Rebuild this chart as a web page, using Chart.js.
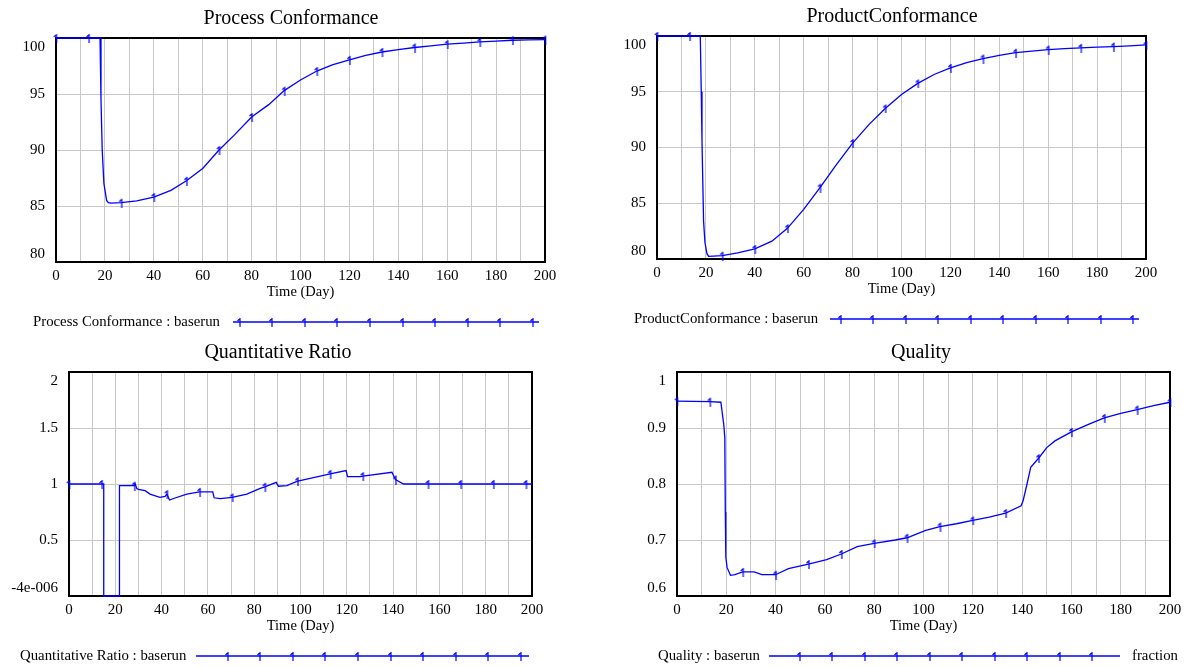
<!DOCTYPE html>
<html>
<head>
<meta charset="utf-8">
<script src="https://cdn.jsdelivr.net/npm/chart.js@4.4.1/dist/chart.umd.min.js"></script>
<style>
  html, body { margin: 0; padding: 0; background: #fff; }
  #wrap { position: relative; width: 1188px; height: 666px; }
  #wrap canvas { position: absolute; left: 0; top: 0; }
</style>
</head>
<body>
<div id="wrap">
  <canvas id="c1" width="1188" height="666"></canvas>
  <canvas id="c2" width="1188" height="666"></canvas>
  <canvas id="c3" width="1188" height="666"></canvas>
  <canvas id="c4" width="1188" height="666"></canvas>
</div>
<script>
// time axis (Day)
const timeGrid = [0, 10, 20, 30, 40, 50, 60, 70, 80, 90, 100, 110, 120, 130, 140, 150, 160, 170, 180, 190, 200];
const timeLabels = [0, 20, 40, 60, 80, 100, 120, 140, 160, 180, 200];

// Process Conformance : baserun
const pcTime = [0, 13.33, 18, 18.4, 18.9, 19.6, 20.7, 21.4, 22.5, 26.67, 33, 40, 47, 53.33, 60, 66.67, 73, 80, 87, 93.33,
  100, 106.67, 113, 120, 126.67, 133.33, 140, 146.67, 153.33, 160, 166.67, 173.33, 180, 186.67, 193.33, 200];
const pcValue = [100, 100, 100, 94.5, 90, 87, 85.5, 85.3, 85.25, 85.3, 85.45, 85.8, 86.4, 87.25, 88.35, 90, 91.35, 92.95, 94.05, 95.3,
  96.25, 97.05, 97.6, 98.05, 98.45, 98.75, 98.97, 99.15, 99.3, 99.45, 99.55, 99.65, 99.72, 99.8, 99.83, 99.86];
const pcMarks = [0, 13.33, 26.67, 40, 53.33, 66.67, 80, 93.33, 106.67, 120, 133.33, 146.67, 160, 173.33, 186.67, 200];
const pcYTicks = [80, 85, 90, 95, 100];
const pcYLabels = ['80', '85', '90', '95', '100'];

// ProductConformance : baserun
const prTime = [0, 13.33, 17.7, 18.1, 18.4, 19.05, 19.6, 20.4, 21.1, 23, 26.67, 33, 40, 47, 53.33, 60, 66.67, 73, 80, 86.67,
  93.33, 100, 106.67, 113.33, 120, 126.67, 133.33, 140, 146.67, 153.33, 160, 166.67, 173.33, 180, 186.67, 193.33, 200];
const prValue = [100, 100, 100, 95, 90.6, 83.4, 81.5, 80.5, 80.23, 80.25, 80.3, 80.55, 80.9, 81.6, 82.75, 84.45, 86.4, 88.35, 90.4, 92.05,
  93.5, 94.75, 95.75, 96.55, 97.14, 97.62, 97.98, 98.27, 98.5, 98.65, 98.78, 98.87, 98.94, 99.0, 99.05, 99.12, 99.2];
const prMarks = [0, 13.33, 26.67, 40, 53.33, 66.67, 80, 93.33, 106.67, 120, 133.33, 146.67, 160, 173.33, 186.67, 200];
const prYTicks = [80, 85, 90, 95, 100];
const prYLabels = ['80', '85', '90', '95', '100'];

// Quantitative Ratio : baserun
const qrTime = [0, 14.1, 15, 15, 21.8, 21.8, 28.2, 28.6, 29.3, 30, 32.9, 35, 39.3, 41.5, 42.3, 43.4, 45.8, 50.9, 56.4, 62.1,
  62.7, 65.3, 70.5, 76.8, 82.6, 84.6, 89.5, 90.5, 94.1, 98.7, 99.8, 108.5, 112.8, 119.7, 120.3, 125.8, 126.9, 139.5, 141, 144.5,
  155.1, 169.2, 183.3, 197.4, 200];
const qrValue = [1, 1, 1, 0, 0, 0.985, 0.985, 1.0, 0.96, 0.952, 0.94, 0.91, 0.88, 0.89, 0.91, 0.857, 0.875, 0.91, 0.93, 0.93,
  0.877, 0.87, 0.88, 0.91, 0.96, 0.975, 1.015, 0.98, 0.985, 1.025, 1.03, 1.07, 1.09, 1.12, 1.065, 1.065, 1.07, 1.105, 1.04, 1.0,
  1, 1, 1, 1, 1];
const qrMarks = [0, 14.1, 28.2, 42.3, 56.4, 70.5, 84.6, 98.7, 112.8, 126.9, 141, 155.1, 169.2, 183.3, 197.4];
const qrYTicks = [0, 0.5, 1, 1.5, 2];
const qrYLabels = ['-4e-006', '0.5', '1', '1.5', '2'];

// Quality : baserun
const quTime = [0, 13.33, 17.8, 19.0, 19.4, 19.6, 19.8, 20.3, 21.7, 23.5, 26.67, 31.3, 34.4, 40, 45.2, 53.33, 60.7, 66.67, 73.1, 80,
  88.5, 93.33, 100.9, 106.67, 113.33, 120, 126.67, 133.33, 139.6, 140.4, 142, 143.5, 146.67, 150, 153.33, 160, 166.67, 173.33, 180, 186.67,
  193.33, 200];
const quValue = [0.948, 0.947, 0.946, 0.905, 0.882, 0.75, 0.67, 0.651, 0.637, 0.638, 0.643, 0.643, 0.638, 0.638, 0.649, 0.657, 0.665, 0.675, 0.688, 0.694,
  0.70, 0.704, 0.717, 0.724, 0.729, 0.735, 0.741, 0.748, 0.761, 0.77, 0.80, 0.83, 0.846, 0.865, 0.877, 0.893, 0.906, 0.918, 0.926, 0.933,
  0.94, 0.946];
const quMarks = [0, 13.33, 26.67, 40, 53.33, 66.67, 80, 93.33, 106.67, 120, 133.33, 146.67, 160, 173.33, 186.67, 200];
const quYTicks = [0.6, 0.7, 0.8, 0.9, 1];
const quYLabels = ['0.6', '0.7', '0.8', '0.9', '1'];

const SERIF = '"Liberation Serif", "Times New Roman", serif';
const BLUE = '#0000ff';

// the little "1" run marker Vensim puts on its lines
const marker = document.createElement('canvas');
marker.width = 7; marker.height = 10;
(function () {
  const m = marker.getContext('2d');
  m.strokeStyle = BLUE; m.lineWidth = 1.2;
  m.beginPath();
  m.moveTo(4, 1); m.lineTo(4, 10);
  m.moveTo(4, 1.5); m.lineTo(1.5, 4);
  m.stroke();
})();

function makeChart(id, t, v, marks, yTicks, yLabels, p) {
  const markSet = new Set(marks);
  const decor = {
    id: 'decor',
    beforeDatasetsDraw(chart) {
      const { ctx, chartArea: a } = chart;
      ctx.save();
      ctx.strokeStyle = '#000'; ctx.lineWidth = 2;
      ctx.strokeRect(a.left, a.top, a.right - a.left, a.bottom - a.top);
      ctx.restore();
    },
    afterDraw(chart) {
      const { ctx, chartArea: a } = chart;
      const ys = chart.scales.y;
      const cx = (a.left + a.right) / 2;
      ctx.save();
      ctx.fillStyle = '#000';
      ctx.textBaseline = 'middle';
      // title
      ctx.font = '20px ' + SERIF;
      ctx.textAlign = 'center';
      ctx.fillText(p.title, p.titleX, a.top - 19);
      // y tick labels, end ones pulled inside like Vensim does
      ctx.font = '15px ' + SERIF;
      ctx.textAlign = 'right';
      ys.ticks.forEach((tk, i) => {
        let py = ys.getPixelForValue(tk.value);
        if (i === 0) py -= 8;
        if (i === ys.ticks.length - 1) py += 9;
        ctx.fillText(yLabels[i], a.left - 11, py);
      });
      // x axis title
      ctx.font = '14.5px ' + SERIF;
      ctx.textAlign = 'center';
      ctx.fillText('Time (Day)', cx, a.bottom + 30);
      // legend row
      const ly = a.bottom + 60;
      ctx.font = '14.8px ' + SERIF;
      ctx.textAlign = 'left';
      ctx.fillText(p.legend, p.legX, ly);
      if (p.unit) ctx.fillText(p.unit, p.unitX, ly);
      ctx.strokeStyle = BLUE; ctx.lineWidth = 1.3;
      ctx.beginPath(); ctx.moveTo(p.lineX0, ly); ctx.lineTo(p.lineX1, ly); ctx.stroke();
      for (let k = 0; k < 10; k++) {
        const mx = p.markX0 + k * p.markStep;
        ctx.drawImage(marker, Math.round(mx - 3.5), Math.round(ly - 5));
      }
      ctx.restore();
    }
  };

  new Chart(document.getElementById(id), {
    type: 'line',
    data: {
      datasets: [{
        data: t.map((x, i) => ({ x: x, y: v[i] })),
        borderColor: BLUE,
        borderWidth: 1.3,
        tension: 0,
        clip: 4,
        pointStyle: marker,
        pointRadius: ctx => (ctx.raw && markSet.has(ctx.raw.x) ? 3 : 0),
        pointHoverRadius: 0
      }]
    },
    options: {
      responsive: false,
      animation: false,
      events: [],
      layout: {
        padding: { left: p.area[0], top: p.area[1], right: 1188 - p.area[2], bottom: 666 - p.area[3] - 30 }
      },
      plugins: { legend: { display: false }, tooltip: { enabled: false } },
      scales: {
        x: {
          type: 'linear', min: 0, max: 200,
          afterBuildTicks: s => { s.ticks = timeGrid.map(g => ({ value: g })); },
          afterFit: s => { s.height = 30; },
          ticks: {
            autoSkip: false, maxRotation: 0, padding: 5, color: '#000',
            font: { family: SERIF, size: 15 },
            callback: val => (timeLabels.includes(val) ? String(val) : '')
          },
          grid: { color: '#c8c8c8', lineWidth: 1, drawTicks: false },
          border: { display: false }
        },
        y: {
          type: 'linear', min: yTicks[0], max: yTicks[yTicks.length - 1],
          afterBuildTicks: s => { s.ticks = yTicks.map(g => ({ value: g })); },
          afterFit: s => { s.width = 0; },
          ticks: { display: false },
          grid: { color: '#c8c8c8', lineWidth: 1, drawTicks: false },
          border: { display: false }
        }
      }
    },
    plugins: [decor]
  });
}

makeChart('c1', pcTime, pcValue, pcMarks, pcYTicks, pcYLabels, {
  title: 'Process Conformance', titleX: 291, legend: 'Process Conformance : baserun',
  area: [56, 38, 545, 262], legX: 33, lineX0: 233, lineX1: 539, markX0: 239, markStep: 32.6
});
makeChart('c2', prTime, prValue, prMarks, prYTicks, prYLabels, {
  title: 'ProductConformance', titleX: 892, legend: 'ProductConformance : baserun',
  area: [657, 36, 1146, 259], legX: 634, lineX0: 830, lineX1: 1139, markX0: 840, markStep: 32.5
});
makeChart('c3', qrTime, qrValue, qrMarks, qrYTicks, qrYLabels, {
  title: 'Quantitative Ratio', titleX: 278, legend: 'Quantitative Ratio : baserun',
  area: [69, 372, 532, 596], legX: 20, lineX0: 196, lineX1: 529, markX0: 227, markStep: 32.6
});
makeChart('c4', quTime, quValue, quMarks, quYTicks, quYLabels, {
  title: 'Quality', titleX: 921, legend: 'Quality : baserun', unit: 'fraction', unitX: 1132,
  area: [677, 372, 1170, 596], legX: 658, lineX0: 769, lineX1: 1120, markX0: 799, markStep: 32.5
});
</script>
</body>
</html>
